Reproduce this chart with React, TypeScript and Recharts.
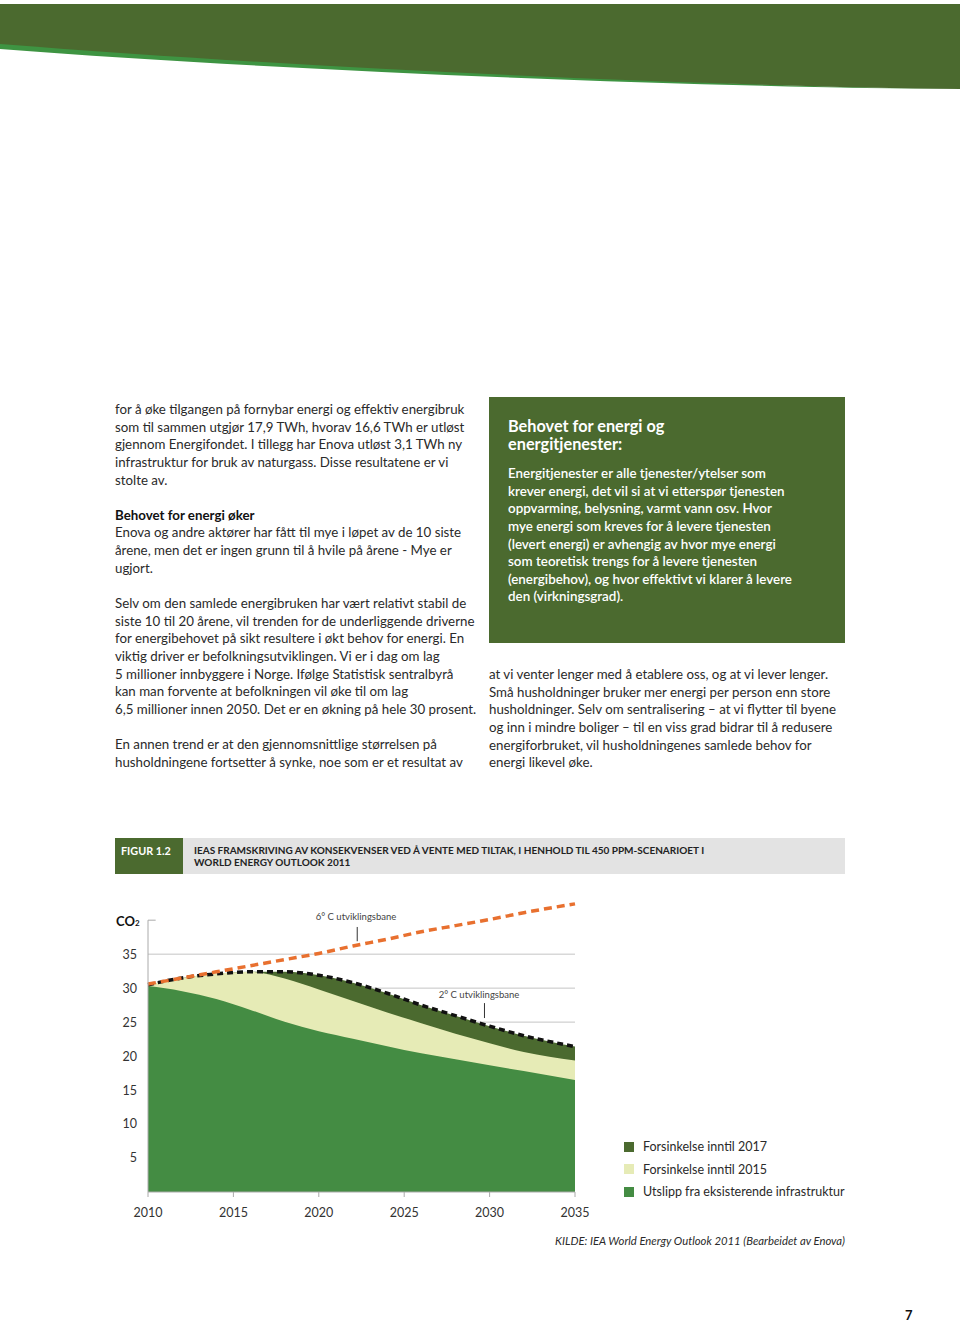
import React from 'react';
import { ComposedChart, Area, Line, XAxis, YAxis, CartesianGrid, ReferenceLine } from 'recharts';

const years = [2010, 2012, 2014, 2016, 2018, 2020, 2022, 2024, 2026, 2028, 2030, 2032, 2035];
const existingInfrastructure = [30.3, 29.55, 28.4, 26.8, 25.05, 23.65, 22.55, 21.45, 20.4, 19.55, 18.65, 17.8, 16.5];
const delayTo2015 = [30.5, 31.5, 32.1, 32.4, 31.4, 29.8, 28.1, 26.4, 24.85, 23.3, 21.9, 20.6, 19.35];
const delayTo2017 = [30.5, 31.5, 32.1, 32.4, 32.4, 31.9, 30.8, 29.25, 27.5, 25.95, 24.4, 23.0, 21.4];
const path2C = [30.5, 31.5, 32.1, 32.4, 32.4, 31.9, 30.8, 29.25, 27.5, 25.95, 24.4, 23.0, 21.4];
const path6C = [30.6, 31.5, 32.4, 33.3, 34.2, 35.1, 36.2, 37.2, 38.3, 39.2, 40.1, 41.1, 42.4];
const xTicks = [2010, 2015, 2020, 2025, 2030, 2035];
const yTicks = [5, 10, 15, 20, 25, 30, 35];

const legendItems = [
  { label: 'Forsinkelse inntil 2017', color: '#4b6a2f' },
  { label: 'Forsinkelse inntil 2015', color: '#e6ebb6' },
  { label: 'Utslipp fra eksisterende infrastruktur', color: '#448c43' },
];

const data = years.map((year, i) => ({
  year,
  existing: existingInfrastructure[i],
  d2015: delayTo2015[i],
  d2017: delayTo2017[i],
  p2: path2C[i],
  p6: path6C[i],
}));

const FONT = 'Lato, "Noto Sans", sans-serif';
const LH = 17.65;

type L = { t: string; b?: boolean } | null;

const leftCol: L[] = [
  { t: 'for å øke tilgangen på fornybar energi og effektiv energibruk' },
  { t: 'som til sammen utgjør 17,9 TWh, hvorav 16,6 TWh er utløst' },
  { t: 'gjennom Energifondet. I tillegg har Enova utløst 3,1 TWh ny' },
  { t: 'infrastruktur for bruk av naturgass. Disse resultatene er vi' },
  { t: 'stolte av.' },
  null,
  { t: 'Behovet for energi øker', b: true },
  { t: 'Enova og andre aktører har fått til mye i løpet av de 10 siste' },
  { t: 'årene, men det er ingen grunn til å hvile på årene - Mye er' },
  { t: 'ugjort.' },
  null,
  { t: 'Selv om den samlede energibruken har vært relativt stabil de' },
  { t: 'siste 10 til 20 årene, vil trenden for de underliggende driverne' },
  { t: 'for energibehovet på sikt resultere i økt behov for energi. En' },
  { t: 'viktig driver er befolkningsutviklingen. Vi er i dag om lag' },
  { t: '5 millioner innbyggere i Norge. Ifølge Statistisk sentralbyrå' },
  { t: 'kan man forvente at befolkningen vil øke til om lag' },
  { t: '6,5 millioner innen 2050. Det er en økning på hele 30 prosent.' },
  null,
  { t: 'En annen trend er at den gjennomsnittlige størrelsen på' },
  { t: 'husholdningene fortsetter å synke, noe som er et resultat av' },
];

const rightCol: L[] = [
  { t: 'at vi venter lenger med å etablere oss, og at vi lever lenger.' },
  { t: 'Små husholdninger bruker mer energi per person enn store' },
  { t: 'husholdninger. Selv om sentralisering – at vi flytter til byene' },
  { t: 'og inn i mindre boliger – til en viss grad bidrar til å redusere' },
  { t: 'energiforbruket, vil husholdningenes samlede behov for' },
  { t: 'energi likevel øke.' },
];

const boxLines = [
  'Energitjenester er alle tjenester/ytelser som',
  'krever energi, det vil si at vi etterspør tjenesten',
  'oppvarming, belysning, varmt vann osv. Hvor',
  'mye energi som kreves for å levere tjenesten',
  '(levert energi) er avhengig av hvor mye energi',
  'som teoretisk trengs for å levere tjenesten',
  '(energibehov), og hvor effektivt vi klarer å levere',
  'den (virkningsgrad).',
];

function Lines({ lines, left, top, color = '#2a2a2a', size = 13.3 }: { lines: L[]; left: number; top: number; color?: string; size?: number }) {
  return (
    <div style={{ position: 'absolute', left, top, fontFamily: FONT, fontSize: size, lineHeight: `${LH}px`, color }}>
      {lines.map((l, i) => (
        <div key={i} style={{ whiteSpace: 'nowrap', height: LH, fontWeight: l && l.b ? 700 : 400, color: l && l.b ? '#111' : color }}>
          {l ? l.t : '\u00a0'}
        </div>
      ))}
    </div>
  );
}

export default function App() {
  const tickStyle = { fill: '#333', fontSize: 12.5, fontFamily: FONT };
  return (
    <div style={{ position: 'absolute', left: 0, top: 0, width: 960, height: 1323, background: '#fff', overflow: 'hidden', fontFamily: FONT }}>
      <svg width={960} height={100} style={{ position: 'absolute', left: 0, top: 0 }}>
        <path d="M0,39 C300,64 700,86 960,89 L960,89 C700,87 300,72 0,49 Z" fill="#3e9442" />
        <path d="M0,4 H960 V89 C700,86 300,68 0,44 Z" fill="#4b6a2f" />
      </svg>

      <Lines lines={leftCol} left={115} top={401} />

      <div style={{ position: 'absolute', left: 489, top: 397, width: 356, height: 246, background: '#4b6a2f' }} />
      <div style={{ position: 'absolute', left: 508, top: 416.5, color: '#fff', fontFamily: FONT, fontWeight: 700, fontSize: 16.3, lineHeight: '18.5px' }}>
        <div style={{ height: 18.5 }}>Behovet for energi og</div>
        <div style={{ height: 18.5 }}>energitjenester:</div>
      </div>
      <div style={{ position: 'absolute', left: 508, top: 465, color: '#fff', fontFamily: FONT, fontWeight: 600, fontSize: 13.4, lineHeight: `${LH}px` }}>
        {boxLines.map((t, i) => (
          <div key={i} style={{ whiteSpace: 'nowrap', height: LH }}>{t}</div>
        ))}
      </div>

      <Lines lines={rightCol} left={489} top={666} />

      <div style={{ position: 'absolute', left: 115, top: 838, width: 730, height: 36, background: '#e3e3e3' }} />
      <div style={{ position: 'absolute', left: 115, top: 838, width: 68, height: 36, background: '#4b6a2f' }} />
      <div style={{ position: 'absolute', left: 121, top: 844, color: '#fff', fontWeight: 700, fontSize: 10.8, fontFamily: FONT }}>FIGUR 1.2</div>
      <div style={{ position: 'absolute', left: 194, top: 845, color: '#222', fontWeight: 700, fontSize: 10, lineHeight: '11.5px', fontFamily: FONT, whiteSpace: 'nowrap' }}>
        <div style={{ height: 11.5 }}>IEAS FRAMSKRIVING AV KONSEKVENSER VED Å VENTE MED TILTAK, I HENHOLD TIL 450 PPM-SCENARIOET I</div>
        <div style={{ height: 11.5 }}>WORLD ENERGY OUTLOOK 2011</div>
      </div>

      <div style={{ position: 'absolute', left: 116, top: 913, color: '#111', fontWeight: 700, fontSize: 13, fontFamily: FONT }}>
        CO<span style={{ fontSize: 8 }}>2</span>
      </div>

      <div style={{ position: 'absolute', left: 100, top: 880 }}>
        <ComposedChart width={500} height={350} data={data} margin={{ top: 13, right: 25, bottom: 8, left: 0 }}>
          <CartesianGrid vertical={false} horizontalValues={yTicks} stroke="#c4c4c4" strokeWidth={1} />
          <XAxis dataKey="year" type="number" domain={[2010, 2035]} ticks={xTicks} axisLine={{ stroke: '#aaa' }} tickLine={{ stroke: '#aaa' }} tickSize={5} tickMargin={11} height={30} tick={tickStyle} />
          <YAxis type="number" domain={[0, 44]} ticks={yTicks} axisLine={false} tickLine={false} width={48} tickSize={0} tickMargin={11} tick={tickStyle} />
          <Area type="monotone" dataKey="d2017" stroke="none" fill="#4b6a2f" fillOpacity={1} isAnimationActive={false} />
          <Area type="monotone" dataKey="d2015" stroke="none" fill="#e6ebb6" fillOpacity={1} isAnimationActive={false} />
          <Area type="monotone" dataKey="existing" stroke="none" fill="#448c43" fillOpacity={1} isAnimationActive={false} />
          <Line type="monotone" dataKey="p2" stroke="#111" strokeWidth={3.5} strokeDasharray="6 4" dot={false} isAnimationActive={false} />
          <Line type="monotone" dataKey="p6" stroke="#e8702f" strokeWidth={3.5} strokeDasharray="8 5" dot={false} isAnimationActive={false} />
          <ReferenceLine segment={[{ x: 2010, y: 0 }, { x: 2010, y: 40 }]} stroke="#aaa" />
          <ReferenceLine segment={[{ x: 2010, y: 40 }, { x: 2010.45, y: 40 }]} stroke="#aaa" />
          <ReferenceLine segment={[{ x: 2022.25, y: 39.0 }, { x: 2022.25, y: 36.9 }]} stroke="#333" />
          <ReferenceLine segment={[{ x: 2029.7, y: 27.8 }, { x: 2029.7, y: 25.6 }]} stroke="#333" />
        </ComposedChart>
      </div>

      <div style={{ position: 'absolute', left: 356, top: 911, transform: 'translateX(-50%)', fontSize: 9.5, color: '#444', fontFamily: FONT, whiteSpace: 'nowrap' }}>6° C utviklingsbane</div>
      <div style={{ position: 'absolute', left: 479, top: 989, transform: 'translateX(-50%)', fontSize: 9.5, color: '#444', fontFamily: FONT, whiteSpace: 'nowrap' }}>2° C utviklingsbane</div>

      {legendItems.map((it, i) => (
        <div key={i} style={{ position: 'absolute', left: 624, top: 1139 + i * 22.5, display: 'flex', alignItems: 'center', fontSize: 12.5, color: '#2a2a2a', fontFamily: FONT, whiteSpace: 'nowrap' }}>
          <div style={{ width: 10, height: 10, background: it.color, marginRight: 9 }} />
          <span>{it.label}</span>
        </div>
      ))}

      <div style={{ position: 'absolute', right: 960 - 845, top: 1234, fontSize: 11.3, fontStyle: 'italic', color: '#2a2a2a', fontFamily: FONT, whiteSpace: 'nowrap' }}>
        KILDE: IEA World Energy Outlook 2011 (Bearbeidet av Enova)
      </div>

      <div style={{ position: 'absolute', left: 905, top: 1307, fontSize: 13, fontWeight: 700, color: '#111', fontFamily: FONT }}>7</div>
    </div>
  );
}
